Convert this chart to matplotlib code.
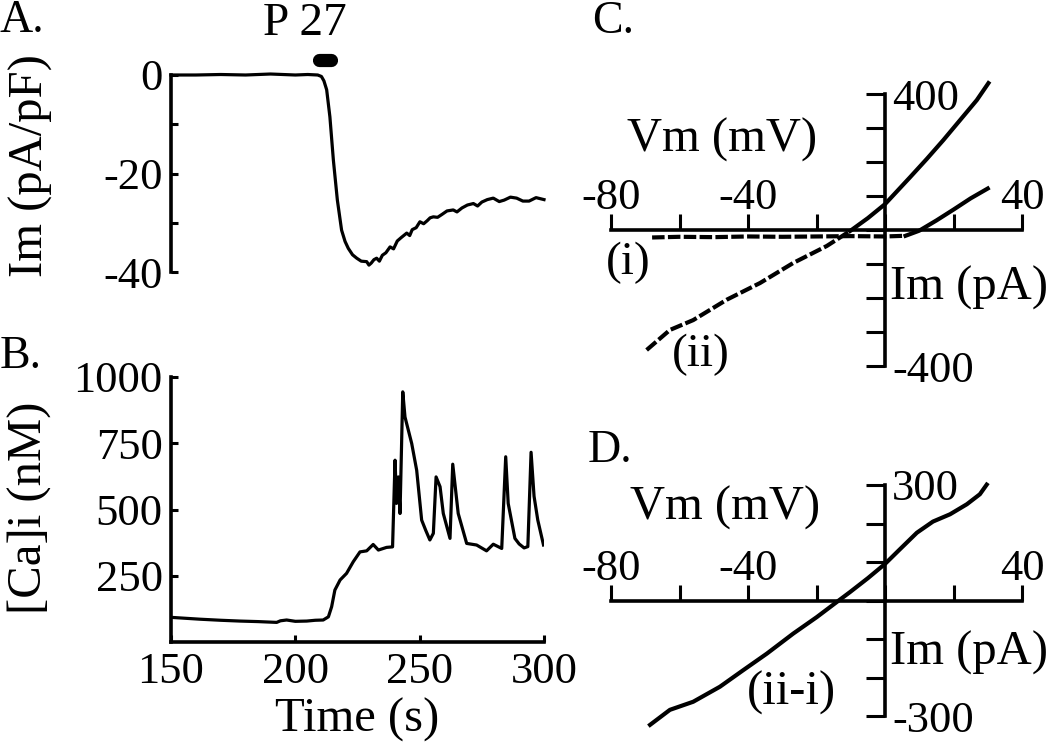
import matplotlib
matplotlib.use("Agg")
import matplotlib.pyplot as plt

plt.rcParams['font.family'] = ['Liberation Serif', 'DejaVu Serif']
plt.rcParams['axes.unicode_minus'] = False

# ---------------- data ----------------
# Panel A: membrane current density vs time
time_A = [150, 160, 170, 180, 190, 200, 205, 209, 210.5, 211.5, 212.6, 213.9, 215.3, 216.9,
          218.6, 220, 221.3, 223, 224.7, 226.5, 228.7, 229.6, 230.5, 231.6, 232.7, 233.8, 235,
          236.4, 238.1, 239.5, 241, 242.6, 244.8, 246, 247, 248.6, 250.1, 251.6, 253, 254.2,
          255.5, 257.2, 259, 261, 263.5, 265, 267, 269.2, 271.6, 273.3, 275, 277.2, 279.6,
          282, 284, 286.5, 289, 291.5, 294, 296.8, 300]
im_A = [0, 0, 0.1, 0, 0.2, 0, 0.1, 0, -0.3, -1.2, -3.0, -8.5, -17.3, -25.4,
        -31.5, -33.8, -35.2, -36.5, -37.2, -37.8, -37.9, -38.6, -38.2, -37.5, -37.2, -37.8, -36.6,
        -36.1, -34.9, -35.3, -33.7, -33.0, -32.1, -32.6, -31.4, -31.0, -29.8, -30.2, -29.6, -29.0,
        -28.8, -28.9, -28.3, -27.6, -27.4, -27.8, -27.0, -26.4, -26.1, -26.6, -25.8, -25.3, -25.0,
        -25.7, -25.4, -24.8, -25.0, -25.6, -25.6, -24.9, -25.3]
p27_on, p27_off = 209.7, 214.5          # application of P 27 (s)

# Panel B: [Ca]i vs time
time_B = [150, 155, 161.7, 170, 177.7, 185, 192.5, 194, 196.5, 200, 204.6, 208, 211.2, 213.3,
          214.6, 215.9, 218, 220.6, 223.3, 226, 228.7, 231.3, 233.4, 236.7, 239.1, 240.1, 240.7,
          241.4, 242.1, 243.2, 244.1, 246.8, 248.8, 250.8, 252.5, 254.1, 255.5, 256.6, 258.2,
          259.5, 262.2, 263.3, 265.5, 268.9, 272.9, 276.9, 279.6, 283, 284.6, 285.6, 288.3,
          290, 292, 293.5, 294.8, 296, 297.5, 299.8]
ca_B = [93, 90, 86, 82, 79, 77, 74, 80, 83, 78, 79, 82, 83, 95,
        133, 196, 234, 259, 303, 340, 344, 368, 347, 357, 359, 686, 523,
        623, 485, 944, 849, 749, 648, 460, 420, 385, 410, 623, 586,
        485, 391, 671, 485, 372, 366, 344, 369, 353, 699, 523, 391,
        370, 355, 360, 716, 550, 460, 366]

# Panel C: I-V relations, (i) control and (ii) with P 27
vm_i = [-68, -60, -50, -40, -30, -20, -10, 0, 6, 10, 15, 20, 25, 30]
im_i = [-22, -20, -21, -19, -20, -19, -18, -19, -17, -2, 28, 60, 93, 122]
vm_ii = [-69.6, -62.8, -56, -46.2, -36.5, -26.8, -17, -10.2, -5, 0, 7.3, 12.2, 17, 21.9, 26.8, 30.2]
im_ii = [-353, -294, -265, -205, -156, -97, -47, -3, 35, 76, 155, 209, 264, 323, 382, 432]

# Panel D: difference current (ii-i)
vm_d = [-68.6, -62.8, -56, -48.2, -41.4, -34.5, -26.8, -19.9, -13.5, -10.2, -5, 0, 4, 9.3,
        14, 19, 23.9, 27.7, 29.7]
im_d = [-323, -284, -263, -224, -181, -138, -86, -43, 0, 22, 58, 95, 130, 176,
        205, 224, 250, 276, 301]

# ---------------- figure ----------------
W, H = 1050, 748
fig = plt.figure(figsize=(W / 100, H / 100), dpi=100)

def fx(px):
    return px / W

def fy(py):
    return 1 - py / H

TICK = 32
LAB = 35
LW_AX = 2.6
LW_DATA = 2.3

axA = fig.add_axes([fx(171), fy(272), (544 - 171) / W, (272 - 75) / H])
axB = fig.add_axes([fx(171), fy(642), (544 - 171) / W, (642 - 377) / H])
axC = fig.add_axes([fx(611), fy(366), (1022 - 611) / W, (366 - 94) / H])
axD = fig.add_axes([fx(611), fy(716), (1022 - 611) / W, (716 - 485) / H])

# ---- A ----
axA.plot(time_A, im_A, color='black', lw=LW_DATA, clip_on=False)
axA.plot([p27_on, p27_off], [3.0, 3.0], color='black', lw=9.5, solid_capstyle='round',
         clip_on=False)
axA.text(204, 10.4, 'P 27', fontsize=34, ha='center', va='center')
axA.set_xlim(150, 300)
axA.set_ylim(-40, 0)
for s in ['top', 'right', 'bottom']:
    axA.spines[s].set_visible(False)
axA.spines['left'].set_linewidth(LW_AX)
axA.set_xticks([])
axA.set_yticks([0, -10, -20, -30, -40])
axA.set_yticklabels(['0', '', '-20', '', '-40'])
axA.tick_params(axis='y', direction='in', length=5, width=2.2, pad=6, labelsize=TICK)

# ---- B ----
axB.plot(time_B, ca_B, color='black', lw=LW_DATA)
axB.set_xlim(150, 300)
axB.set_ylim(0, 1000)
for s in ['top', 'right']:
    axB.spines[s].set_visible(False)
for s in ['left', 'bottom']:
    axB.spines[s].set_linewidth(LW_AX)
axB.set_yticks([250, 500, 750, 1000])
axB.set_xticks([150, 200, 250, 300])
axB.tick_params(axis='y', direction='in', length=5, width=2.2, pad=6, labelsize=TICK)
axB.tick_params(axis='x', direction='in', length=5, width=2.2, pad=7, labelsize=TICK)
axB.set_xlabel('Time (s)', fontsize=LAB, labelpad=4)

# ---- C / D cross axes ----
def cross_axes(ax, ylim, ylabs):
    ax.set_xlim(-80, 40)
    ax.set_ylim(*ylim)
    ax.spines['left'].set_visible(False)
    ax.spines['bottom'].set_visible(False)
    ax.spines['top'].set_position(('data', 0))
    ax.spines['right'].set_position(('data', 0))
    ax.spines['top'].set_linewidth(LW_AX)
    ax.spines['right'].set_linewidth(LW_AX)
    ax.xaxis.set_ticks_position('top')
    ax.yaxis.set_ticks_position('right')
    ax.set_xticks([-80, -60, -40, -20, 0, 20, 40])
    ax.set_xticklabels(['-80', '', '-40', '', '', '', '40'])
    step = ylim[1] / 3 if ylim[1] == 300 else ylim[1] / 4
    n = int(round(ylim[1] / step))
    yt = [k * step for k in range(-n, n + 1)]
    ax.set_yticks(yt)
    ax.set_yticklabels([ylabs[1] if k == n else (ylabs[0] if k == -n else '')
                        for k in range(-n, n + 1)])
    ax.tick_params(axis='x', direction='out', length=11.5, width=2.2, pad=-3, labelsize=TICK)
    ax.tick_params(axis='y', direction='in', length=14, width=2.2, pad=5, labelsize=TICK)

cross_axes(axC, (-400, 400), ('-400', '400'))
cross_axes(axD, (-300, 300), ('-300', '300'))

dash = (0, (3, 0.8))
# (i)
n_i = 9
axC.plot(vm_i[:n_i], im_i[:n_i], color='black', lw=3.0, linestyle=dash, clip_on=False)
axC.plot(vm_i[n_i - 1:], im_i[n_i - 1:], color='black', lw=3.0, clip_on=False)
# (ii)
n_ii = 8
axC.plot(vm_ii[:n_ii], im_ii[:n_ii], color='black', lw=3.0, linestyle=dash, clip_on=False)
axC.plot(vm_ii[n_ii - 1:], im_ii[n_ii - 1:], color='black', lw=3.0, clip_on=False)
# (ii-i)
axD.plot(vm_d, im_d, color='black', lw=3.0, clip_on=False)

# ---------------- texts ----------------
fig.text(fx(0), fy(21), 'A.', fontsize=33, ha='left', va='center')
fig.text(fx(0), fy(357), 'B.', fontsize=33, ha='left', va='center')
fig.text(fx(592), fy(22), 'C.', fontsize=33, ha='left', va='center')
fig.text(fx(588), fy(451), 'D.', fontsize=33, ha='left', va='center')

fig.text(fx(31), fy(166), 'Im (pA/pF)', fontsize=LAB, rotation=90, ha='center', va='center')
fig.text(fx(30), fy(508), '[Ca]i (nM)', fontsize=LAB, rotation=90, ha='center', va='center')

fig.text(fx(722), fy(140), 'Vm (mV)', fontsize=LAB, ha='center', va='center')
fig.text(fx(890), fy(288), 'Im (pA)', fontsize=LAB, ha='left', va='center')
fig.text(fx(628), fy(263), '(i)', fontsize=34, ha='center', va='center')
fig.text(fx(701), fy(355), '(ii)', fontsize=34, ha='center', va='center')

fig.text(fx(725), fy(508), 'Vm (mV)', fontsize=LAB, ha='center', va='center')
fig.text(fx(890), fy(653), 'Im (pA)', fontsize=LAB, ha='left', va='center')
fig.text(fx(791), fy(693), '(ii-i)', fontsize=35, ha='center', va='center')

fig.savefig('out.png', dpi=100)
